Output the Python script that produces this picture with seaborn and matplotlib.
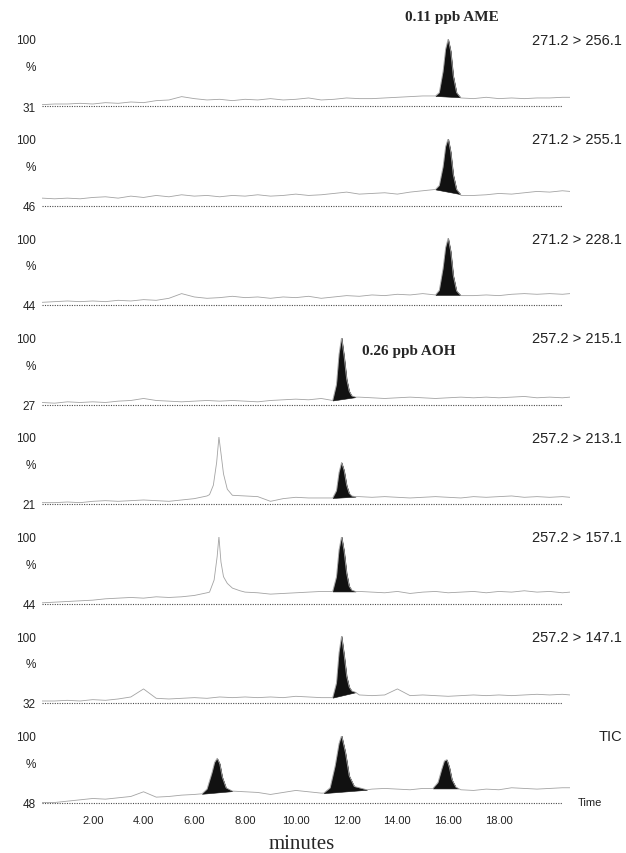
import matplotlib.pyplot as plt
import seaborn as sns
import pandas as pd
import numpy as np

sns.set_style("white")
plt.rcParams['font.family'] = ['Liberation Sans', 'DejaVu Sans']

# common time grid for the baselines (minutes)
base_t = [0.0, 0.5, 1.0, 1.5, 2.0, 2.5, 3.0, 3.5, 4.0, 4.5,
          5.0, 5.5, 6.0, 6.5, 7.0, 7.5, 8.0, 8.5, 9.0, 9.5,
          10.0, 10.5, 11.0, 11.5, 12.0, 12.5, 13.0, 13.5, 14.0, 14.5,
          15.0, 15.5, 16.0, 16.5, 17.0, 17.5, 18.0, 18.5, 19.0, 19.5,
          20.0, 20.5, 20.8]

# baseline levels (% of panel)
p1_base = [2, 3, 3, 4, 3, 5, 4, 6, 5, 8, 9, 14, 11, 9, 10, 8, 10, 9, 11, 9,
           10, 12, 9, 10, 12, 11, 11, 12, 13, 14, 15, 15, 15, 12, 11, 13, 11, 12, 11, 12,
           12, 13, 13]
p2_base = [11, 10, 11, 10, 12, 13, 11, 14, 12, 15, 13, 16, 14, 15, 13, 15, 14, 16, 14, 15,
           17, 15, 16, 18, 20, 17, 18, 19, 17, 20, 22, 25, 25, 15, 15, 16, 18, 17, 19, 21,
           20, 22, 21]
p3_base = [4, 5, 6, 5, 6, 5, 7, 6, 8, 7, 10, 17, 12, 10, 11, 13, 11, 12, 10, 12,
           11, 13, 10, 12, 14, 13, 15, 14, 16, 15, 17, 15, 15, 14, 14, 15, 14, 16, 17, 16,
           17, 16, 17]
p4_base = [3, 2, 4, 3, 4, 3, 5, 6, 9, 6, 5, 4, 5, 6, 5, 6, 5, 4, 6, 7,
           8, 7, 9, 7, 11, 11, 10, 9, 10, 11, 10, 9, 10, 11, 10, 11, 10, 11, 12, 10,
           11, 10, 11]
p5_base = [2, 2, 3, 2, 4, 5, 4, 5, 6, 5, 4, 6, 8, 12, 13, 13, 12, 11, 4, 8,
           10, 9, 9, 9, 11, 11, 10, 11, 10, 9, 10, 11, 10, 9, 11, 10, 11, 12, 10, 11,
           10, 11, 10]
p6_base = [1, 2, 3, 4, 5, 7, 8, 9, 8, 10, 9, 10, 12, 16, 30, 21, 17, 16, 14, 15,
           16, 17, 18, 18, 18, 18, 17, 16, 18, 15, 17, 18, 16, 17, 18, 16, 18, 17, 19, 17,
           18, 16, 17]
p7_base = [3, 3, 4, 3, 5, 4, 6, 9, 21, 7, 6, 7, 8, 7, 9, 8, 9, 8, 9, 8,
           10, 9, 8, 8, 15, 12, 11, 12, 21, 11, 12, 11, 10, 11, 12, 11, 12, 11, 12, 13,
           12, 13, 12]
tic_base = [0, 0, 2, 4, 6, 5, 7, 9, 16, 8, 9, 11, 12, 13, 15, 17, 16, 15, 12, 15,
            18, 16, 14, 15, 17, 19, 20, 21, 20, 19, 21, 21, 21, 19, 18, 20, 19, 22, 21, 20,
            21, 22, 22]

# integrated (filled) peaks
ame_t = [15.5, 15.65, 15.8, 15.9, 16.0, 16.1, 16.2, 16.33, 16.48]
p1_peak = [15, 20, 52, 85, 100, 82, 45, 20, 13]
p2_peak = [24, 30, 58, 88, 100, 80, 46, 24, 17]
p3_peak = [15, 22, 55, 86, 100, 80, 44, 21, 15]

aoh_t = [11.45, 11.6, 11.7, 11.8, 11.9, 12.0, 12.1, 12.2, 12.35]
p4_peak = [6, 30, 75, 100, 72, 38, 20, 13, 11]
p5_peak = [9, 20, 47, 62, 50, 28, 16, 12, 11]
p6_peak = [18, 40, 80, 100, 78, 45, 26, 20, 18]
p7_peak = [8, 30, 75, 100, 72, 40, 24, 18, 16]

tic1_t = [6.3, 6.5, 6.7, 6.8, 6.9, 7.0, 7.1, 7.25, 7.5]
tic1_y = [13, 20, 45, 60, 66, 58, 38, 22, 17]
tic2_t = [11.1, 11.35, 11.55, 11.7, 11.8, 11.95, 12.1, 12.3, 12.8]
tic2_y = [14, 22, 55, 88, 100, 75, 40, 24, 19]
tic3_t = [15.4, 15.6, 15.75, 15.85, 15.95, 16.05, 16.15, 16.3, 16.4]
tic3_y = [21, 30, 50, 62, 64, 52, 34, 23, 21]

# unfilled spikes around 7 min
p5_spike_t = [6.6, 6.75, 6.88, 6.97, 7.05, 7.15, 7.3, 7.5]
p5_spike_y = [14, 28, 62, 100, 76, 45, 22, 13]
p6_spike_t = [6.6, 6.78, 6.9, 6.97, 7.05, 7.15, 7.3, 7.5, 7.8]
p6_spike_y = [17, 35, 70, 100, 62, 40, 30, 23, 19]

channels = ['271.2 > 256.1', '271.2 > 255.1', '271.2 > 228.1', '257.2 > 215.1',
            '257.2 > 213.1', '257.2 > 157.1', '257.2 > 147.1', 'TIC']
low_labels = ['31', '46', '44', '27', '21', '44', '32', '48']
x_ticks = [2, 4, 6, 8, 10, 12, 14, 16, 18]

panels = [
    (p1_base, [(ame_t, p1_peak)], []),
    (p2_base, [(ame_t, p2_peak)], []),
    (p3_base, [(ame_t, p3_peak)], []),
    (p4_base, [(aoh_t, p4_peak)], []),
    (p5_base, [(aoh_t, p5_peak)], [(p5_spike_t, p5_spike_y)]),
    (p6_base, [(aoh_t, p6_peak)], [(p6_spike_t, p6_spike_y)]),
    (p7_base, [(aoh_t, p7_peak)], []),
    (tic_base, [(tic1_t, tic1_y), (tic2_t, tic2_y), (tic3_t, tic3_y)], []),
]


def build_trace(base_y, segments):
    t = np.array(base_t)
    y = np.array(base_y, dtype=float)
    keep = np.ones(len(t), dtype=bool)
    for st, sy in segments:
        keep &= ~((t >= st[0]) & (t <= st[-1]))
    tt = np.concatenate([t[keep]] + [np.array(s[0]) for s in segments])
    yy = np.concatenate([y[keep]] + [np.array(s[1], dtype=float) for s in segments])
    order = np.argsort(tt)
    return pd.DataFrame({'time': tt[order], 'pct': yy[order]})


W, H = 626, 854
fig = plt.figure(figsize=(W / 100, H / 100), dpi=100)
left_px, right_px = 42, 570
for i, (base_y, peaks, spikes) in enumerate(panels):
    top_px = 40 + 99.5 * i
    bot_px = top_px + 67
    ax = fig.add_axes([left_px / W, 1 - bot_px / H, (right_px - left_px) / W, 67 / H])
    df = build_trace(base_y, peaks + spikes)
    sns.lineplot(data=df, x='time', y='pct', ax=ax, color='#a3a3a3', lw=0.6,
                 estimator=None, sort=False)
    for pt, py in peaks:
        floor = np.interp(pt, [pt[0], pt[-1]], [py[0], py[-1]])
        ax.fill_between(pt, py, floor, color='#111111', lw=0.4, edgecolor='#111111')
    ax.plot([0.0, 20.5], [0, 0], color='#4a4a4a', lw=0.8, ls=(0, (1, 1.2)),
            clip_on=False)
    ax.set_xlim(0, 20.8)
    ax.set_ylim(0, 100)
    ax.set_xlabel('')
    ax.set_ylabel('')
    sns.despine(ax=ax, left=True, bottom=True)
    ax.set_yticks([0, 20, 40, 60, 80, 100])
    ax.set_yticklabels([low_labels[i], '', '', '%', '', '100'])
    ax.tick_params(axis='y', length=1.5, width=0.8, color='#888888', pad=3,
                   labelsize=8.5, labelcolor='#222222')
    if i == len(panels) - 1:
        ax.set_xticks(x_ticks)
        ax.set_xticklabels([f'{v:.2f}' for v in x_ticks])
        ax.tick_params(axis='x', length=0, pad=9, labelsize=8, labelcolor='#222222')
        fig.text(578 / W, 1 - bot_px / H, 'Time', ha='left', va='center',
                 fontsize=8, color='#222222')
    else:
        ax.set_xticks([])
    fig.text(622 / W, 1 - (top_px + 1) / H, channels[i], ha='right', va='center',
             fontsize=10.5, color='#222222')

fig.text(452 / W, 1 - 18 / H, '0.11 ppb AME', ha='center', va='center',
         fontsize=11, fontweight='bold', family='Liberation Serif')
fig.text(362 / W, 1 - 352 / H, '0.26 ppb AOH', ha='left', va='center',
         fontsize=11, fontweight='bold', family='Liberation Serif')
fig.text(302 / W, 1 - 845 / H, 'minutes', ha='center', va='center',
         fontsize=15, family='Liberation Serif')

fig.savefig('out.png', dpi=100)
